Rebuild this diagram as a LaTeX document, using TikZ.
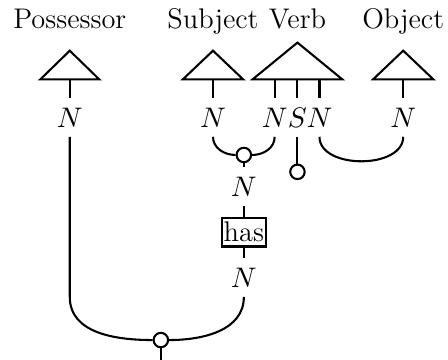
\documentclass[tikz,border=0pt]{standalone}
\usepackage{amsmath}
\usepackage{tikz}
\tikzset{
	dot/.style={draw, thick, circle, fill=white, inner sep=0pt, minimum size=5.6pt},
	box/.style={draw, thick, inner xsep=0.7pt, inner ysep=1.7pt}
}

\begin{document}
\begin{tikzpicture}[thick, font=\fontsize{11}{13}\selectfont]
	\useasboundingbox (0,0) rectangle (6.1,4.9);
	% words
	\foreach \name/\x/\w/\y/\word in {poss/0.95/0.40/4.21/Possessor, subj/2.90/0.41/4.21/Subject, verb/4.05/0.61/4.32/Verb, obj/5.49/0.41/4.21/Object}{
		\draw ({\x-\w},3.82) -- (\x,\y) -- ({\x+\w},3.82) -- cycle;
		\coordinate (\name) at (\x,3.82);
		\node[anchor=base] (\name w) at (\x,4.51) {\word};};
	% types
	\node (pn) at (0.95,3.30) {\(N\)};
	\node (sn) at (2.90,3.30) {\(N\)};
	\node (vn1) at (3.74,3.30) {\(N\)};
	\node (vs) at (4.05,3.30) {\(S\)};
	\node (vn2) at (4.35,3.30) {\(N\)};
	\node (on) at (5.49,3.30) {\(N\)};
	\draw (poss) -- (pn);
	\draw (subj) -- (sn);
	\draw (vn1 |- verb) -- (vn1);
	\draw (verb) -- (vs);
	\draw (vn2 |- verb) -- (vn2);
	\draw (obj) -- (on);
	% cups
	\node[dot] (c1) at (3.32,2.79) {};
	\draw (sn) to[out=-90, in=180] (c1);
	\draw (vn1) to[out=-90, in=0] (c1);
	\node[dot] (c2) at (4.05,2.56) {};
	\draw (vs) -- (c2);
	\draw (vn2) to[out=-90, in=-90] (on);
	% has
	\node (hn1) at (3.32,2.36) {\(N\)};
	\node[box] (has) at (3.32,1.74) {has};
	\node (hn2) at (3.32,1.12) {\(N\)};
	\draw (c1) -- (hn1) -- (has) -- (hn2);
	% possessor
	\node[dot] (c3) at (2.19,0.27) {};
	\coordinate (bend) at (pn |- hn2.south);
	\coordinate (root) at (c3 |- 0,0);
	\draw (pn) -- (bend) to[out=-90, in=180] (c3);
	\draw (hn2) to[out=-90, in=0] (c3);
	\draw (c3) -- (root);
\end{tikzpicture}
\end{document}
